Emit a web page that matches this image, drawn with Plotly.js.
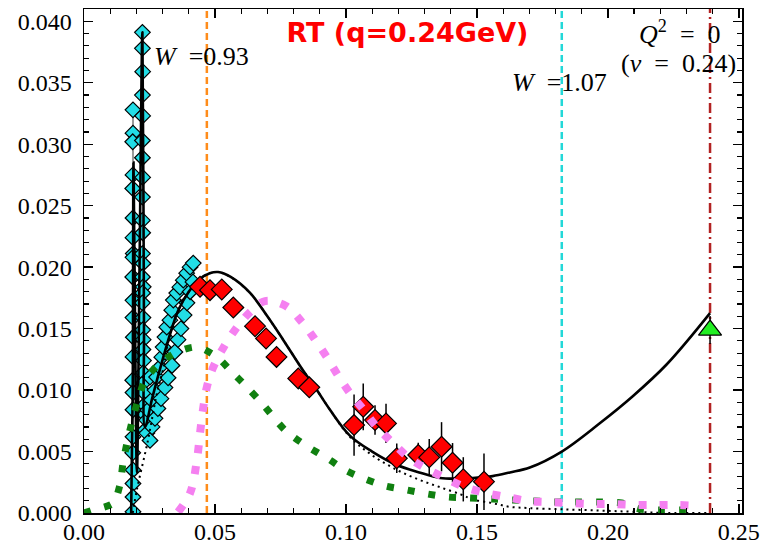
<!DOCTYPE html>
<html><head><meta charset="utf-8">
<script src="https://cdn.plot.ly/plotly-3.0.1.min.js"></script>
<style>html,body{margin:0;padding:0;background:#fff}#chart{width:763px;height:547px}</style>
</head><body><div id="chart"></div>
<script>
// ---- data ----
const modelX = [0.0180,0.0186,0.0189,0.0195,0.0202,0.0212,0.0223,0.0229,0.0233,0.0260,0.0290,0.0328,0.0360,0.0400,0.0440,0.0480,0.0512,0.0560,0.0634,0.0700,0.0760,0.0830,0.0889,0.0939,0.1015,0.1100,0.1195,0.1280,0.1359,0.1440,0.1485,0.1560,0.1626,0.1702,0.1824,0.1969,0.2095,0.2225,0.2390];
const modelY = [0.0000,0.0100,0.0285,0.0150,0.0033,0.0200,0.0391,0.0150,0.0070,0.0093,0.0117,0.0145,0.0165,0.0180,0.0190,0.0195,0.0196,0.0192,0.0179,0.0160,0.0141,0.0118,0.0100,0.0084,0.0063,0.0050,0.0039,0.0033,0.00285,0.0028,0.00285,0.0030,0.0033,0.0037,0.0050,0.0073,0.0095,0.0121,0.01626];

const bgX = [0.0186,0.0202,0.0244,0.0279,0.0302,0.0328,0.036,0.040,0.044,0.048,0.0512,0.056,0.0634,0.070,0.076,0.083,0.0889,0.0939,0.1015,0.110,0.1195,0.1280,0.1359,0.1440,0.1485,0.1560,0.1626,0.1700,0.1824,0.1969,0.2095,0.2225,0.239];
const bgY = [0.0000,0.0019,0.0059,0.0098,0.0117,0.0145,0.0165,0.0180,0.0190,0.0195,0.0196,0.0192,0.0179,0.0160,0.0141,0.0118,0.0100,0.0084,0.0062,0.0047,0.0035,0.0027,0.0021,0.0015,0.0011,0.0008,0.0005,0.0004,0.0003,0.0002,0.0001,0.0000,0.0000];

const greenX = [0.0,0.0034,0.0111,0.0137,0.0149,0.0164,0.0183,0.0206,0.0233,0.0282,0.0355,0.0431,0.0508,0.0565,0.0622,0.0679,0.0767,0.0844,0.0939,0.0996,0.1073,0.1149,0.1233,0.1313,0.1389,0.1473,0.1561,0.1637,0.1721,0.1805,0.1885,0.1969,0.2053,0.2122,0.2206,0.2282,0.2320];
const greenY = [0.0,0.00024,0.00081,0.00228,0.00407,0.00569,0.0074,0.00919,0.01081,0.01203,0.01309,0.0135,0.01268,0.01146,0.01024,0.00894,0.00675,0.00553,0.00431,0.0035,0.00276,0.0022,0.00187,0.00154,0.0013,0.00122,0.00114,0.00106,0.00098,0.00089,0.00089,0.00089,0.00081,0.00033,0.00024,0.00024,0.00022];

const pinkX = [0.0359,0.0405,0.0431,0.0443,0.0454,0.0469,0.0492,0.0531,0.0576,0.0634,0.0691,0.0771,0.0832,0.0878,0.0927,0.0969,0.1015,0.1065,0.1118,0.1176,0.1237,0.1302,0.1378,0.1454,0.1531,0.1615,0.1695,0.1771,0.1859,0.1943,0.2019,0.2107,0.2187,0.2271,0.2351];
const pinkY = [0.00008,0.00163,0.00431,0.0065,0.00837,0.01024,0.01179,0.01341,0.01488,0.01634,0.01724,0.01683,0.01553,0.01423,0.01268,0.01122,0.00976,0.00846,0.00699,0.00577,0.00455,0.00366,0.00285,0.00211,0.00163,0.0013,0.00098,0.00089,0.00081,0.00073,0.00073,0.00065,0.00065,0.00065,0.00057];

// cyan data: left column (joined by grey line), spike column, rising branch
const cyanColX = [0.0187,0.0187,0.0186,0.0187,0.0186,0.0187,0.0187,0.0188,0.0187,0.0186,0.0187,0.0187,0.0188,0.0187,0.0186,0.0187,0.0187,0.0187,0.0186,0.0187,0.0187,0.0187,0.0187];
const cyanColY = [0.0328,0.0309,0.0302,0.0275,0.0264,0.0240,0.0224,0.0211,0.0208,0.0192,0.0173,0.0159,0.0143,0.0127,0.0108,0.0098,0.0084,0.0062,0.0049,0.0035,0.0024,0.0013,0.0001];
const cyanSpikeX = [0.0223,0.0223,0.0224,0.0223,0.0224,0.0223,0.0223,0.0224,0.0223,0.0223,0.0224,0.0223,0.0225,0.0223,0.0226,0.0224,0.0223,0.0225,0.0224,0.0226,0.0225,0.0227,0.0226,0.0228,0.0229,0.0231,0.0232];
const cyanSpikeY = [0.0391,0.0378,0.0359,0.0340,0.0323,0.0303,0.0289,0.0273,0.0257,0.0238,0.0228,0.0211,0.0203,0.0192,0.0184,0.0179,0.0171,0.0159,0.0149,0.0141,0.0133,0.0124,0.0114,0.0106,0.0098,0.0088,0.0080];
const cyanRiseX = [0.0233,0.0239,0.0244,0.0258,0.0271,0.0252,0.0277,0.0290,0.0297,0.0302,0.0309,0.0316,0.0328,0.0335,0.0341,0.0354,0.0366,0.0379,0.0392,0.0405,0.0417,0.0240,0.0252,0.0260,0.0271,0.0282,0.0294,0.0309,0.0321,0.0336,0.0347,0.0359,0.0370,0.0382,0.0393,0.0405,0.0416];
const cyanRiseY = [0.00675,0.00756,0.00837,0.00919,0.0100,0.01106,0.01106,0.01187,0.01268,0.0135,0.01431,0.01512,0.01569,0.0165,0.01732,0.01789,0.01837,0.01894,0.01951,0.0200,0.02033,0.0065,0.0059,0.0070,0.0077,0.0085,0.0093,0.0102,0.0110,0.0120,0.0131,0.0141,0.0150,0.0161,0.0171,0.0180,0.0188];

const redX = [0.0443,0.0481,0.0526,0.0570,0.0653,0.0695,0.0735,0.0818,0.0860,0.1031,0.1066,0.1111,0.1153,0.1194,0.1276,0.1318,0.1365,0.1407,0.1448,0.1527];
const redY = [0.0184,0.01813,0.01819,0.01672,0.0152,0.0142,0.0127,0.01095,0.01022,0.00715,0.00864,0.00756,0.00729,0.00445,0.00472,0.00453,0.00539,0.00409,0.00274,0.00255];
const redErr = [0.0003,0.0003,0.0003,0.0003,0.0003,0.0003,0.0003,0.0004,0.0004,0.0025,0.0019,0.0012,0.0016,0.0012,0.0010,0.0015,0.0020,0.0016,0.0018,0.0023];

const photonX = [0.239];
const photonY = [0.01488];
const photonErr = [0.00114];

const vlineX = [0.0469, 0.1824, 0.239];
const vlineColor = ['#ff8c1a', '#22d8d8', '#b22222'];
const vlineDash = ['7px,4px', '7px,4px', '10px,4px,2px,4px'];

const xTickVals = [0.00, 0.05, 0.10, 0.15, 0.20, 0.25];
const yTickVals = [0.000, 0.005, 0.010, 0.015, 0.020, 0.025, 0.030, 0.035, 0.040];

// ---- traces ----
const cyan = '#22dde6';
const diamondLine = {color: '#000', width: 1.2};
const traces = [
  {x: cyanColX, y: cyanColY, mode: 'lines+markers', line: {color: '#999', width: 2},
   marker: {symbol: 'diamond', size: 12, color: cyan, line: diamondLine}, hoverinfo: 'skip'},
  {x: cyanSpikeX, y: cyanSpikeY, mode: 'markers',
   marker: {symbol: 'diamond', size: 12, color: cyan, line: diamondLine}, hoverinfo: 'skip'},
  {x: cyanRiseX, y: cyanRiseY, mode: 'markers',
   marker: {symbol: 'diamond', size: 12, color: cyan, line: diamondLine}, hoverinfo: 'skip'},
  {x: bgX, y: bgY, mode: 'lines', line: {color: '#000', width: 2, dash: '2px,4px', shape: 'spline', smoothing: 1}},
  {x: modelX, y: modelY, mode: 'lines', line: {color: '#000', width: 2.6, shape: 'spline', smoothing: 1}},
  {x: redX, y: redY, mode: 'markers',
   error_y: {type: 'data', array: redErr, visible: true, color: '#000', thickness: 1.5, width: 0},
   marker: {symbol: 'diamond', size: 16, color: '#ff0000', line: diamondLine}},
  {x: greenX, y: greenY, mode: 'lines', line: {color: '#108010', width: 7, dash: '7px,14px', shape: 'spline', smoothing: 0.8}},
  {x: pinkX, y: pinkY, mode: 'lines', line: {color: '#f580f0', width: 8, dash: '8px,13px', shape: 'spline', smoothing: 1}},
  {x: photonX, y: photonY, mode: 'markers',
   error_y: {type: 'data', array: photonErr, visible: true, color: '#000', thickness: 1.5, width: 0},
   marker: {symbol: 'triangle-up', size: 20, color: '#22ee22', line: {color: '#000', width: 1.2}}}
];

const shapes = vlineX.map((v, i) => ({
  type: 'line', xref: 'x', yref: 'paper', x0: v, x1: v, y0: 0, y1: 1, layer: 'below',
  line: {color: vlineColor[i], width: 2.5, dash: vlineDash[i]}
}));

const serif = 'Liberation Serif, Times New Roman, serif';
const axisCommon = {
  showgrid: false, zeroline: false, showline: true, linecolor: '#000', linewidth: 1.5,
  mirror: 'allticks', ticks: 'inside', ticklen: 9, tickwidth: 1.3, tickcolor: '#000'
};
const txt = {family: serif, size: 26, color: '#000'};

const layout = {
  width: 763, height: 547,
  margin: {l: 84, r: 21, t: 9, b: 34},
  paper_bgcolor: '#fff', plot_bgcolor: '#fff',
  showlegend: false,
  title: {text: 'RT (q=0.24GeV)', font: {family: 'DejaVu Sans', size: 27, color: '#ff0000', weight: 'bold'},
          x: 0.534, xref: 'container', xanchor: 'center', y: 0.94, yref: 'container', yanchor: 'middle'},
  xaxis: Object.assign({}, axisCommon, {range: [0, 0.2512], tickvals: xTickVals, tickformat: '.2f',
    tickfont: {family: serif, size: 24, color: '#000'}, ticklabelstandoff: -3,
    minor: {dtick: 0.01, ticks: 'inside', ticklen: 5, tickwidth: 1.2, tickcolor: '#000'}}),
  yaxis: Object.assign({}, axisCommon, {range: [0, 0.041], tickvals: yTickVals, tickformat: '.3f',
    tickfont: {family: serif, size: 24, color: '#000'}, ticklabelstandoff: 6,
    minor: {dtick: 0.001, ticks: 'inside', ticklen: 5, tickwidth: 1.2, tickcolor: '#000'}}),
  shapes: shapes,
  annotations: [
    {text: '<i>W</i>&nbsp;&nbsp;=0.93', x: 0.0260, y: 0.0371, xref: 'x', yref: 'y', xanchor: 'left', yanchor: 'middle',
     showarrow: false, font: txt},
    {text: '<i>W</i>&nbsp;&nbsp;=1.07', x: 0.1626, y: 0.0350, xref: 'x', yref: 'y', xanchor: 'left', yanchor: 'middle',
     showarrow: false, font: txt},
    {text: '<i>Q</i><sup>2</sup>&nbsp;&nbsp;=&nbsp;&nbsp;0', x: 0.2274, y: 0.0391, xref: 'x', yref: 'y', xanchor: 'center', yanchor: 'middle',
     showarrow: false, font: txt},
    {text: '(<i>ν</i>&nbsp;&nbsp;=&nbsp;&nbsp;0.24)', x: 0.2270, y: 0.0366, xref: 'x', yref: 'y', xanchor: 'center', yanchor: 'middle',
     showarrow: false, font: txt}
  ]
};

Plotly.newPlot('chart', traces, layout, {displayModeBar: false, staticPlot: true});
</script></body></html>
